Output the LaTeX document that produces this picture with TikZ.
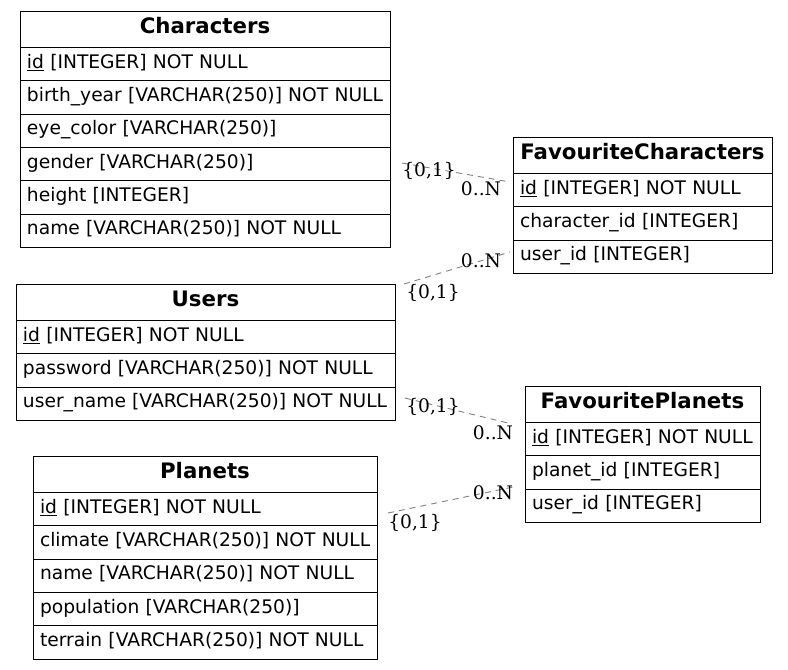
\documentclass[tikz,border=0pt]{standalone}
\usepackage{fontspec}
\usepackage{xcolor}
\usepackage{tikz}
\usetikzlibrary{positioning}
\newfontfamily\erfont{DejaVu Sans}
\newfontfamily\cardfont{DejaVu Serif}
\definecolor{line}{HTML}{000000}
\definecolor{edge}{HTML}{808080}
\tikzset{
  head/.style={draw=line, line width=1pt, outer sep=0pt, inner sep=0pt, minimum height=36.5pt, minimum width=#1, text height=16pt, text depth=8pt, font=\erfont\bfseries\fontsize{21.3}{24}\selectfont},
  field/.style={draw=line, line width=1pt, outer sep=0pt, inner xsep=7pt, inner ysep=0pt, minimum height=33.3pt, text width=#1, text height=14pt, text depth=6pt, align=left, font=\erfont\fontsize{18.67}{22}\selectfont,
    execute at begin node=\hbox\bgroup, execute at end node=\egroup},
  rel/.style={draw=edge, line width=0.9pt, dash pattern=on 6pt off 5pt},
  card/.style={inner sep=0pt, font=\cardfont\fontsize{18.67}{22}\selectfont},
}
\begin{document}
\begin{tikzpicture}[x=1pt,y=-1pt]
  \useasboundingbox (0,0) rectangle (788,670);
  % Characters
  \node[head=370pt, anchor=north west] (chr) at (20,11) {Characters};
  \node[field=356pt, below=0pt of chr] (chr-id) {\underline{id} [INTEGER] NOT NULL};
  \node[field=356pt, below=0pt of chr-id] (chr-birth) {birth\_year [VARCHAR(250)] NOT NULL};
  \node[field=356pt, below=0pt of chr-birth] (chr-eye) {eye\_color [VARCHAR(250)]};
  \node[field=356pt, below=0pt of chr-eye] (chr-gender) {gender [VARCHAR(250)]};
  \node[field=356pt, below=0pt of chr-gender] (chr-height) {height [INTEGER]};
  \node[field=356pt, below=0pt of chr-height] (chr-name) {name [VARCHAR(250)] NOT NULL};
  % Users
  \node[head=379pt, anchor=north west] (usr) at (16,284) {Users};
  \node[field=365pt, below=0pt of usr] (usr-id) {\underline{id} [INTEGER] NOT NULL};
  \node[field=365pt, below=0pt of usr-id] (usr-pwd) {password [VARCHAR(250)] NOT NULL};
  \node[field=365pt, below=0pt of usr-pwd] (usr-uname) {user\_name [VARCHAR(250)] NOT NULL};
  % Planets
  \node[head=344pt, anchor=north west] (pln) at (33,456) {Planets};
  \node[field=330pt, below=0pt of pln] (pln-id) {\underline{id} [INTEGER] NOT NULL};
  \node[field=330pt, below=0pt of pln-id] (pln-climate) {climate [VARCHAR(250)] NOT NULL};
  \node[field=330pt, below=0pt of pln-climate] (pln-name) {name [VARCHAR(250)] NOT NULL};
  \node[field=330pt, below=0pt of pln-name] (pln-pop) {population [VARCHAR(250)]};
  \node[field=330pt, below=0pt of pln-pop] (pln-terrain) {terrain [VARCHAR(250)] NOT NULL};
  % FavouriteCharacters
  \node[head=259pt, anchor=north west] (fch) at (513,137) {FavouriteCharacters};
  \node[field=245pt, below=0pt of fch] (fch-id) {\underline{id} [INTEGER] NOT NULL};
  \node[field=245pt, below=0pt of fch-id] (fch-char) {character\_id [INTEGER]};
  \node[field=245pt, below=0pt of fch-char] (fch-user) {user\_id [INTEGER]};
  % FavouritePlanets
  \node[head=235pt, anchor=north west] (fpl) at (525,386) {FavouritePlanets};
  \node[field=221pt, below=0pt of fpl] (fpl-id) {\underline{id} [INTEGER] NOT NULL};
  \node[field=221pt, below=0pt of fpl-id] (fpl-planet) {planet\_id [INTEGER]};
  \node[field=221pt, below=0pt of fpl-planet] (fpl-user) {user\_id [INTEGER]};
  % relations
  \coordinate (r1a) at (402,163);
  \coordinate (r1b) at (510,182);
  \coordinate (r2a) at (404,284);
  \coordinate (r2b) at (510,252);
  \coordinate (r3a) at (405,398);
  \coordinate (r3b) at (512,424);
  \coordinate (r4a) at (388,513);
  \coordinate (r4b) at (513,487);
  \draw[rel] (r1a) -- (r1b);
  \draw[rel] (r2a) -- (r2b);
  \draw[rel] (r3a) -- (r3b);
  \draw[rel] (r4a) -- (r4b);
  \node[card] (r1one) at (429,171) {\{0,1\}};
  \node[card] (r1many) at (481,189) {0..N};
  \node[card] (r2one) at (433,293) {\{0,1\}};
  \node[card] (r2many) at (481,261) {0..N};
  \node[card] (r3one) at (433,407) {\{0,1\}};
  \node[card] (r3many) at (493,433) {0..N};
  \node[card] (r4one) at (415,523) {\{0,1\}};
  \node[card] (r4many) at (493,493) {0..N};
\end{tikzpicture}
\end{document}
